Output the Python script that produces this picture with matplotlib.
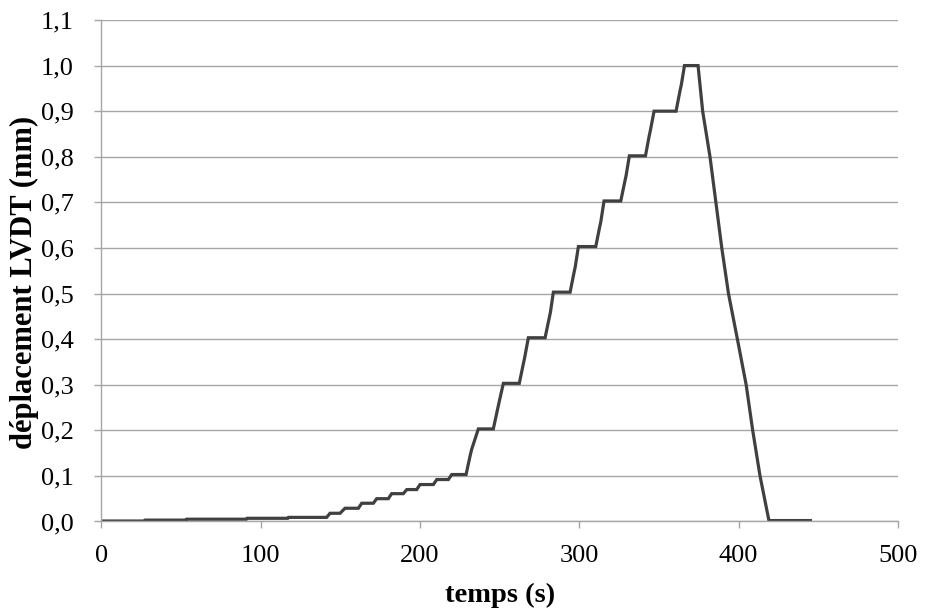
import matplotlib
matplotlib.use("Agg")
import matplotlib.pyplot as plt
from matplotlib.ticker import FuncFormatter, MultipleLocator

# time (s)
temps = [0, 27, 27.5, 53, 53.5, 91, 91.5, 117, 117.5,
         141.4, 143.5, 149.8, 152.9, 161.3, 163.4, 170.7, 172.8, 180.1, 182.2,
         189.5, 191.7, 197.9, 200.0, 208.4, 210.5, 217.8, 219.9,
         228.9, 231.5, 232.4, 236.6,
         246.0, 248.6, 249.4, 252.3,
         262.3, 264.8, 265.6, 268.0,
         278.5, 281.0, 281.8, 283.7,
         294.2, 296.6, 297.4, 299.4,
         310.3, 312.7, 313.5, 315.5,
         326.0, 328.5, 329.3, 331.4,
         341.5, 343.8, 344.6, 346.9,
         360.7, 363.2, 364.0, 366.0,
         374.5, 377.4, 382.0, 385.7, 389.4, 393.6, 399.2, 404.7, 408.8, 413.4,
         419.0, 445.0]

# LVDT displacement (mm)
deplacement = [0.001, 0.001, 0.003, 0.003, 0.005, 0.005, 0.007, 0.007, 0.009,
               0.009, 0.018, 0.018, 0.029, 0.029, 0.040, 0.040, 0.050, 0.050, 0.061,
               0.061, 0.070, 0.070, 0.081, 0.081, 0.092, 0.092, 0.103,
               0.103, 0.145, 0.158, 0.203,
               0.203, 0.245, 0.258, 0.303,
               0.303, 0.345, 0.358, 0.403,
               0.403, 0.445, 0.458, 0.503,
               0.503, 0.545, 0.558, 0.603,
               0.603, 0.645, 0.658, 0.703,
               0.703, 0.745, 0.758, 0.802,
               0.802, 0.845, 0.858, 0.900,
               0.900, 0.945, 0.958, 1.000,
               1.000, 0.900, 0.800, 0.700, 0.600, 0.500, 0.400, 0.300, 0.200, 0.100,
               0.002, 0.002]

x_label = "temps (s)"
y_label = "déplacement LVDT (mm)"

serif = ["Liberation Serif", "DejaVu Serif"]
plt.rcParams["font.family"] = serif

fig = plt.figure(figsize=(9.25, 6.13), dpi=100)
ax = fig.add_axes([0.1096, 0.1493, 0.8612, 0.8181])

ax.plot(temps, deplacement, color="#404040", linewidth=2.3, solid_joinstyle="miter")

ax.set_xlim(0, 500)
ax.set_ylim(0, 1.1)
ax.xaxis.set_major_locator(MultipleLocator(100))
ax.yaxis.set_major_locator(MultipleLocator(0.1))
ax.yaxis.set_major_formatter(FuncFormatter(lambda v, p: f"{v:.1f}".replace(".", ",")))

ax.grid(axis="y", color="#a6a6a6", linewidth=1.0)
ax.set_axisbelow(True)
for s in ["top", "right"]:
    ax.spines[s].set_visible(False)
for s in ["left", "bottom"]:
    ax.spines[s].set_color("#a6a6a6")
    ax.spines[s].set_linewidth(1.0)

ax.tick_params(axis="both", which="major", direction="out", color="#a6a6a6",
               length=5, width=1.0, labelsize=19, labelcolor="black")
ax.tick_params(axis="x", pad=12)
ax.tick_params(axis="y", pad=15)

ax.set_xlabel(x_label, fontsize=20.5, fontweight="bold", labelpad=11)
fig.text(24 / 925, 1 - 282 / 613, y_label, rotation=90, ha="center", va="center",
         fontsize=22, fontweight="bold")

fig.savefig("out.png", dpi=100)
